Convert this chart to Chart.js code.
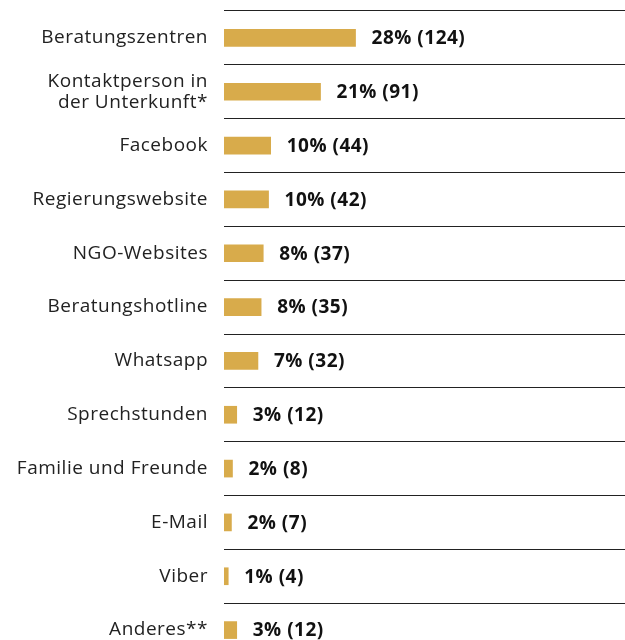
<!DOCTYPE html>
<html>
<head>
<meta charset="utf-8">
<script src="https://cdn.jsdelivr.net/npm/chart.js@4"></script>
<style>
  html, body { margin: 0; padding: 0; background: #fff; overflow: hidden; }
</style>
</head>
<body>
<canvas id="chart" width="625" height="660"></canvas>
<script>
const categories = [
  'Beratungszentren',
  ['Kontaktperson in', 'der Unterkunft*'],
  'Facebook',
  'Regierungswebsite',
  'NGO-Websites',
  'Beratungshotline',
  'Whatsapp',
  'Sprechstunden',
  'Familie und Freunde',
  'E-Mail',
  'Viber',
  'Anderes**'
];
const counts = [124, 91, 44, 42, 37, 35, 32, 12, 8, 7, 4, 12];
const percents = [28, 21, 10, 10, 8, 8, 7, 3, 2, 2, 1, 3];

const fontFamily = '"Open Sans", sans-serif';

// slightly wider text, closer to the original typeface
const spacing = {
  id: 'spacing',
  beforeUpdate(chart) { chart.ctx.letterSpacing = '0.5px'; },
  beforeDraw(chart) { chart.ctx.letterSpacing = '0.5px'; }
};

// value labels to the right of each bar
const valueLabels = {
  id: 'valueLabels',
  afterDatasetsDraw(chart) {
    const ctx = chart.ctx;
    const meta = chart.getDatasetMeta(0);
    ctx.save();
    ctx.letterSpacing = '0.5px';
    ctx.font = 'bold 19px ' + fontFamily;
    ctx.fillStyle = '#111';
    ctx.textBaseline = 'middle';
    meta.data.forEach((bar, i) => {
      ctx.fillText(percents[i] + '% (' + counts[i] + ')', bar.x + 16, bar.y + 1);
    });
    ctx.restore();
  }
};

const ctx = document.getElementById('chart').getContext('2d');
new Chart(ctx, {
  type: 'bar',
  data: {
    labels: categories,
    datasets: [{
      data: counts,
      backgroundColor: '#D8AB4B',
      barThickness: 17,
      borderWidth: 0
    }]
  },
  options: {
    indexAxis: 'y',
    responsive: false,
    animation: false,
    layout: { padding: { top: 11, right: 0, bottom: 3, left: 0 } },
    plugins: {
      legend: { display: false },
      tooltip: { enabled: false }
    },
    scales: {
      x: {
        display: false,
        min: 0,
        max: 378
      },
      y: {
        afterFit(scale) {
          scale.width = 224;
          scale.paddingTop = 0;
          scale.paddingBottom = 0;
        },
        border: { display: false },
        grid: {
          offset: true,
          color: '#222',
          lineWidth: 1,
          drawTicks: false
        },
        ticks: {
          padding: 16,
          color: '#222',
          font: { family: fontFamily, size: 19, lineHeight: 1.1 }
        }
      }
    }
  },
  plugins: [spacing, valueLabels]
});
</script>
</body>
</html>
